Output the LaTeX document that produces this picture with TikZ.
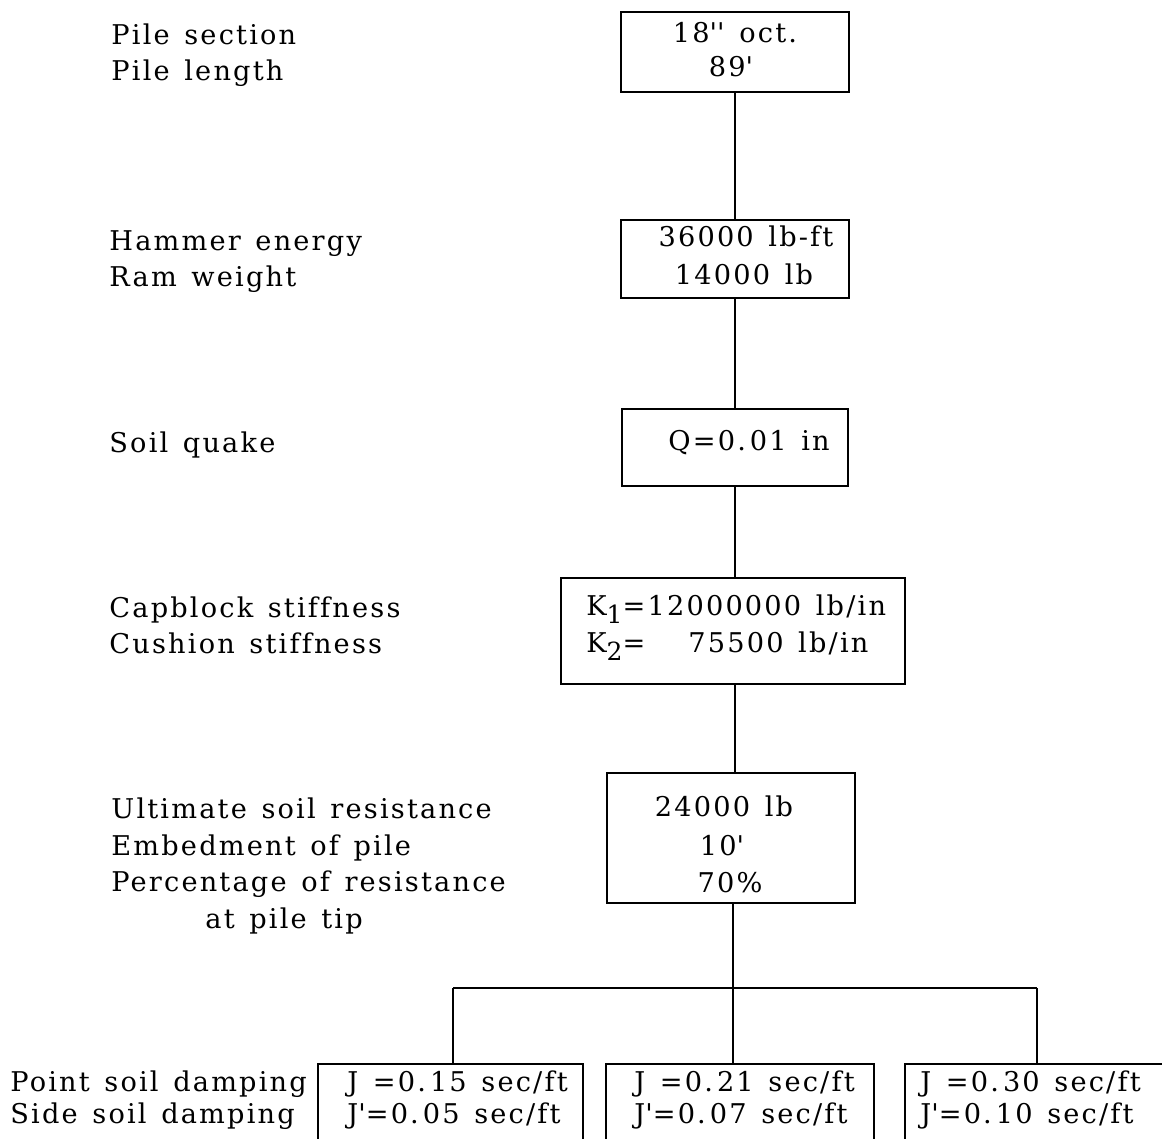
\documentclass[tikz,border=0pt]{standalone}
\usepackage{fontspec}
\setmainfont{DejaVu Serif}[LetterSpace=8,WordSpace=1.35,Ligatures={NoCommon}]
\newcommand\lowsub[1]{\raisebox{-0.6ex}{\fontsize{12.5}{12.5}\selectfont #1}}
\newcommand\tick{\textquotesingle}
\newcommand\dec{.\hspace{2pt}}
\begin{document}
\begin{tikzpicture}[x=0.5pt,y=-0.5pt,
  box/.style={draw, line width=1.1pt, inner sep=0pt},
  link/.style={line width=1.1pt},
  txt/.style={font=\fontsize{13.6}{16}\selectfont, inner sep=0pt},
  lbl/.style={txt, anchor=base west},
  val/.style={txt, anchor=base},
  valw/.style={txt, anchor=base west}]
\useasboundingbox (0,0) rectangle (1162,1139);
\clip (0,0) rectangle (1162,1139);

% chain of boxes
\node[box, minimum width=114pt, minimum height=40pt]   (b1) at (735,52) {};
\node[box, minimum width=114pt, minimum height=39pt]   (b2) at (735,259) {};
\node[box, minimum width=113pt, minimum height=38.5pt] (b3) at (735,447.5) {};
\node[box, minimum width=172pt, minimum height=53pt]   (b4) at (733,631) {};
\node[box, minimum width=124pt, minimum height=65pt]   (b5) at (731,838) {};

% damping cases
\node[box, minimum width=132.5pt, minimum height=70pt] (d1) at (450.5,1134) {};
\node[box, minimum width=134pt,   minimum height=70pt] (d2) at (740,1134) {};
\node[box, minimum width=135pt,   minimum height=70pt] (d3) at (1040,1134) {};

\coordinate (jl) at (453,988);
\coordinate (jm) at (733,988);
\coordinate (jr) at (1037,988);

\draw[link] (b1.south) -- (b2.north);
\draw[link] (b2.south) -- (b3.north);
\draw[link] (b3.south) -- (b3.south |- b4.north);
\draw[link] (b3.south |- b4.south) -- (b3.south |- b5.north);
\draw[link] (jm |- b5.south) -- (jm);
\draw[link] (jl) -- (jr);
\draw[link] (jl) -- (jl |- d1.north);
\draw[link] (jm) -- (jm |- d2.north);
\draw[link] (jr) -- (jr |- d3.north);

% box contents
\node[val] (v1a) at (735,43) {18\tick\tick{} oct.};
\node[val] (v1b) at (731,77) {89\tick};
\node[val] (v2a) at (746,247) {36000 lb-ft};
\node[val] (v2b) at (744,285) {14000 lb};
\node[val] (v3)  at (749,450) {Q=0\dec 01 in};
\node[valw] (v4a) at (586,615) {K\lowsub{1}=12000000 lb/in};
\node[valw] (v4b) at (586,652) {\makebox[51pt][l]{K\lowsub{2}=}75500 lb/in};
\node[val] (v5a) at (724,816) {24000 lb};
\node[val] (v5b) at (722,855) {10\tick};
\node[val] (v5c) at (730,892) {70\%};

\node[valw] (d1a) at (347,1091) {J =0\dec 15 sec/ft};
\node[valw] (d1b) at (347,1123) {J\tick=0\dec 05 sec/ft};
\node[valw] (d2a) at (634,1091) {J =0\dec 21 sec/ft};
\node[valw] (d2b) at (634,1123) {J\tick=0\dec 07 sec/ft};
\node[valw] (d3a) at (920,1091) {J =0\dec 30 sec/ft};
\node[valw] (d3b) at (920,1123) {J\tick=0\dec 10 sec/ft};

% parameter names
\node[lbl] (l1a) at (111,45)  {Pile section};
\node[lbl] (l1b) at (111,81)  {Pile length};
\node[lbl] (l2a) at (109,251) {Hammer energy};
\node[lbl] (l2b) at (109,287) {Ram weight};
\node[lbl] (l3)  at (109,452) {Soil quake};
\node[lbl] (l4a) at (109,617) {Capblock stiffness};
\node[lbl] (l4b) at (109,653) {Cushion stiffness};
\node[lbl] (l5a) at (111,818) {Ultimate soil resistance};
\node[lbl] (l5b) at (111,855) {Embedment of pile};
\node[lbl] (l5c) at (111,891) {Percentage of resistance};
\node[lbl] (l5d) at (205,928) {at pile tip};
\node[lbl] (l6a) at (10,1091) {Point soil damping};
\node[lbl] (l6b) at (10,1123) {Side soil damping};
\end{tikzpicture}
\end{document}
